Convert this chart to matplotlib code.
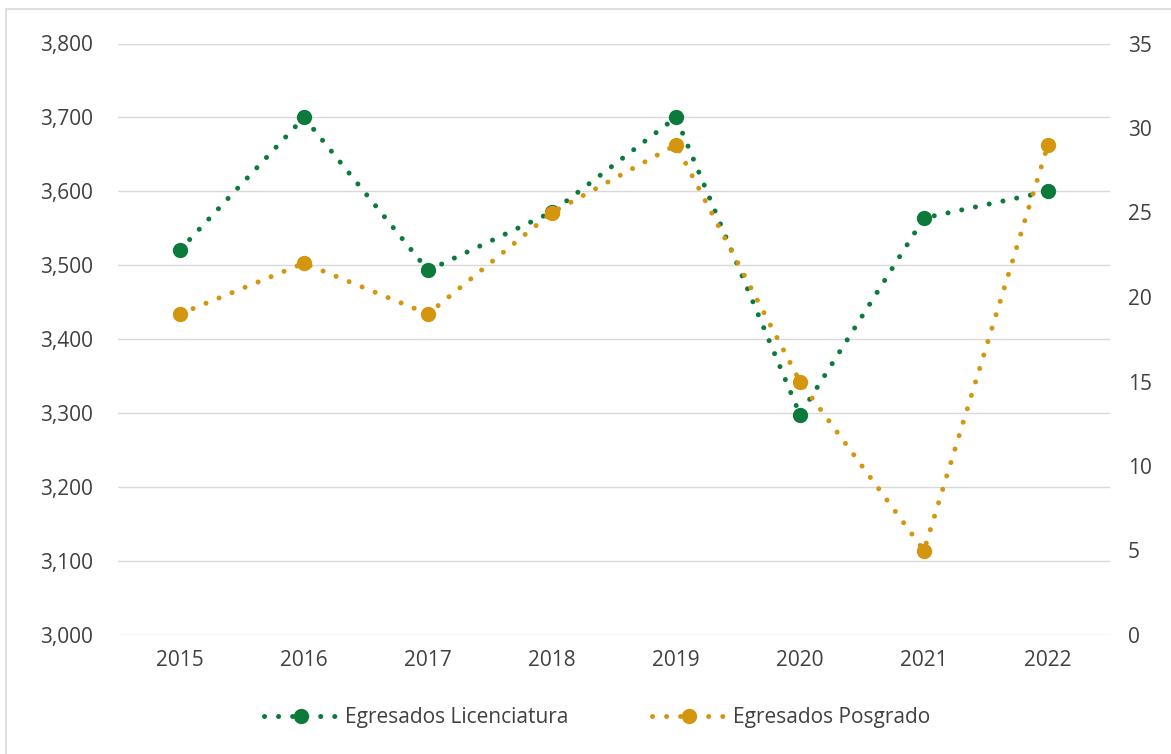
import matplotlib.pyplot as plt
from matplotlib.patches import Rectangle
from matplotlib.ticker import FuncFormatter

plt.rcParams['font.family'] = ['Open Sans', 'DejaVu Sans']

# Datos
anios = ['2015', '2016', '2017', '2018', '2019', '2020', '2021', '2022']
licenciatura = [3521, 3700, 3493, 3572, 3700, 3298, 3564, 3600]
posgrado = [19, 22, 19, 25, 29, 15, 5, 29]

verde = '#0b7a3b'
dorado = '#d4960f'
texto = '#404040'

fig = plt.figure(figsize=(11.71, 7.54), dpi=100)
ax = fig.add_axes([118 / 1171, 1 - 635 / 754, (1110 - 118) / 1171, (635 - 43.5) / 754])
ax2 = ax.twinx()

x = list(range(len(anios)))
punteado = (0, (0.01, 2.8))

l1, = ax.plot(x, licenciatura, color=verde, linestyle=punteado, linewidth=3.6,
              dash_capstyle='round', marker='o', markersize=10, zorder=3,
              label='Egresados Licenciatura')
l2, = ax2.plot(x, posgrado, color=dorado, linestyle=punteado, linewidth=3.6,
               dash_capstyle='round', marker='o', markersize=10, zorder=3,
               label='Egresados Posgrado')

ax.set_xlim(-0.5, len(anios) - 0.5)
ax.set_ylim(3000, 3800)
ax.set_yticks(range(3000, 3801, 100))
ax.yaxis.set_major_formatter(FuncFormatter(lambda v, p: f'{int(v):,}'))
ax2.set_ylim(0, 35)
ax2.set_yticks(range(0, 36, 5))

ax.set_xticks(x)
ax.set_xticklabels(anios)

ax.grid(axis='y', color='#d9d9d9', linewidth=1)
ax.set_axisbelow(True)

for a in (ax, ax2):
    for s in a.spines.values():
        s.set_visible(False)
    a.tick_params(length=0, labelsize=15, labelcolor=texto)
ax.tick_params(axis='y', pad=18)
ax.tick_params(axis='x', pad=11)
ax2.tick_params(axis='y', pad=13)

fig.legend(handles=[l1, l2], loc='center', bbox_to_anchor=(0.51, 1 - 718 / 754),
           ncol=2, frameon=False, fontsize=15, labelcolor=texto,
           handlelength=3.6, columnspacing=4, handletextpad=0.3)

# Marco exterior
fig.patches.append(Rectangle((6 / 1171, -10 / 754), 1180 / 1171, 755 / 754,
                             transform=fig.transFigure, fill=False,
                             edgecolor='#d9d9d9', linewidth=1.2))

fig.savefig('out.png', dpi=100, facecolor='white')
